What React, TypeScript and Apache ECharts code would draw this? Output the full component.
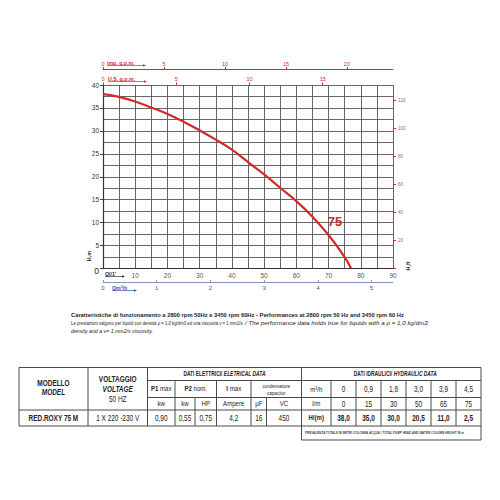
import React, { useEffect, useRef } from "react";
import * as echarts from "echarts";

// ---- data ----
const flowLpm = [0, 5, 10, 15, 20, 25, 30, 35, 40, 45, 50, 55, 60, 65, 70, 75, 77];
const headM = [38.0, 37.4, 36.4, 35.1, 33.7, 32.0, 30.1, 28.1, 25.9, 23.2, 20.5, 17.6, 14.7, 11.3, 7.3, 2.5, 0];
const curveLabel = "75";
const curveLabelAt = [72, 10.2];

const modelName = "RED.ROXY 75 M";
const voltageValue = "1 X 220 -230 V";
const elecUnits = ["kw", "kw", "HP", "Ampere", "μF", "VC"];
const elecValues = ["0,90", "0,55", "0,75", "4,2", "16", "450"];
const hydRowLabels = ["m³/h", "l/m", "H/(m)"];
const hydM3h = ["0", "0,9", "1,8", "3,0", "3,9", "4,5"];
const hydLm = ["0", "15", "30", "50", "65", "75"];
const hydHead = ["38,0", "35,0", "30,0", "20,5", "11,0", "2,5"];

const noteTitle =
  "Caratteristiche di funzionamento a 2800 rpm 50Hz e 3450 rpm 60Hz - Performances at 2800 rpm 50 Hz and 3450 rpm 60 Hz";
const noteIt = "Le prestazioni valgono per liquidi con densità ρ = 1,0 kg/dm3 ed una viscosità ν = 1 mm2/s";
const noteEn1 = "/ The performance data holds true for liquids with a ρ = 1,0 kg/dm3";
const noteEn2 = "density and a ν= 1 mm2/s viscosity.";
const headNote = "PREVALENZA TOTALE IN METRI COLONNA ACQUA / TOTAL PUMP HEAD AND WATER COLUMN HEIGHT IN m";

// ---- unit conversions for secondary axes ----
const LPM_MAX = 90;
const L_PER_USGAL = 3.785;
const L_PER_IMPGAL = 4.546;
const FT_PER_M = 3.28084;

const RED = "#d42a2a";
const BLUE = "#2e57a8";
const GRID = "#555";
const INK = "#222";
const FF = "'Liberation Sans', Arial, sans-serif";
const fnt = (size: number, weight = "normal", style = "normal") => `${style} ${weight} ${size}px ${FF}`;

export default function App() {
  const ref = useRef<HTMLDivElement>(null);
  useEffect(() => {
    const canvas = document.createElement("canvas");
    const ctx = canvas.getContext("2d")!;
    const tw = (s: string, font: string) => {
      ctx.font = font;
      return ctx.measureText(s).width;
    };
    const T = (x: number, y: number, text: string, font: string, fill = INK, align = "left", sx = 1, rot = 0) => ({
      type: "text",
      x,
      y,
      scaleX: sx,
      rotation: rot,
      silent: true,
      style: { text, font, fill, textAlign: align, textVerticalAlign: "middle" },
    });
    const fitT = (x: number, y: number, text: string, font: string, width: number, fill = INK) =>
      T(x, y, text, font, fill, "left", width / tw(text, font));
    const SX = 0.76;
    const cell = (cx: number, cy: number, parts: [string, string][], fill = INK, sx = SX) => {
      const ws = parts.map(([t, f]) => tw(t, f) * sx);
      let x = cx - ws.reduce((a, b) => a + b, 0) / 2;
      return parts.map(([t, f], i) => {
        const el = T(x, cy, t, f, fill, "left", sx);
        x += ws[i];
        return el;
      });
    };
    const L = (x1: number, y1: number, x2: number, y2: number, stroke = "#555", w = 1) => ({
      type: "line",
      silent: true,
      shape: { x1, y1, x2, y2 },
      style: { stroke, lineWidth: w },
    });
    const nameTag = (x: number, y: number, text: string, color: string, end: number) => {
      const font = fnt(5.5, "bold");
      return [
        T(x, y, text, font, color, "left", 0.95),
        L(x, y + 3, end, y + 3, color, 0.7),
        {
          type: "polygon",
          silent: true,
          shape: { points: [[end, y + 1.8], [end + 3, y + 3], [end, y + 4.2]] },
          style: { fill: color },
        },
      ];
    };

    const g: any[] = [];
    g.push(...nameTag(107, 62.5, "imp. g.p.m.", RED, 143));
    g.push(...nameTag(108, 78.5, "U.S. g.p.m.", RED, 144));
    g.push(...nameTag(105, 273.5, "Ql/1'", "#333", 122));
    g.push(...nameTag(112, 287.5, "Qm³/h", BLUE, 134));
    g.push(T(89, 256, "H,m", fnt(5.5, "bold"), "#333", "center", 1, Math.PI / 2));
    g.push(T(408, 266, "H,ft", fnt(5.5, "bold"), "#333", "center", 1, Math.PI / 2));

    g.push(fitT(71, 314.5, noteTitle, fnt(6, "bold"), 334));
    g.push(fitT(71, 323, noteIt, fnt(5.5), 172));
    g.push(fitT(245, 323, noteEn1, fnt(5.5, "normal", "italic"), 183));
    g.push(fitT(71, 330.5, noteEn2, fnt(5.5, "normal", "italic"), 82));

    const top = 367.5, yH1 = 380.5, yH2 = 397.5, yH3 = 410, bot = 426, noteBot = 440;
    const xL = 19, xR = 481;
    const c1 = 88, c2 = 147.5, p1 = 175, p2 = 195, hp = 216.5, im = 251, uf = 266.5, vc = 301.5;
    const hx = [301.5, 331, 356, 381, 406, 431, 456, 481];
    const LC = "#4a4a4a";
    g.push({ type: "rect", silent: true, shape: { x: xL, y: top, width: xR - xL, height: bot - top }, style: { fill: "none", stroke: LC, lineWidth: 1 } });
    g.push(L(c1, top, c1, bot, LC), L(c2, top, c2, bot, LC), L(vc, top, vc, noteBot, LC));
    g.push(L(xR, bot, xR, noteBot, LC), L(vc, noteBot, xR, noteBot, LC, 1.2));
    g.push(L(c2, yH1, xR, yH1, LC), L(c2, yH2, xR, yH2, LC), L(xL, yH3, xR, yH3, LC));
    [p1, hp, im].forEach((x) => g.push(L(x, yH1, x, bot, LC)));
    [p2, uf].forEach((x) => g.push(L(x, yH2, x, bot, LC)));
    hx.slice(1, 7).forEach((x) => g.push(L(x, yH1, x, bot, LC)));

    const B = fnt(8.5, "bold");
    const BI = fnt(8.5, "bold", "italic");
    const R = fnt(8.5);
    g.push(...cell((xL + c1) / 2, 383.5, [["MODELLO", B]]));
    g.push(...cell((xL + c1) / 2, 392, [["MODEL", BI]]));
    g.push(...cell((c1 + c2) / 2, 379.5, [["VOLTAGGIO", B]]));
    g.push(...cell((c1 + c2) / 2, 389.5, [["VOLTAGE", BI]]));
    g.push(...cell((c1 + c2) / 2, 399.5, [["50 HZ", R]]));
    const HB = fnt(7, "bold");
    const HBI = fnt(7, "bold", "italic");
    g.push(...cell((c2 + vc) / 2, 374, [["DATI ELETTRICI/ ", HB], ["ELETRICAL DATA", HBI]], INK, 0.7));
    g.push(...cell((vc + xR) / 2 + 4, 374, [["DATI IDRAULICI/ ", HB], ["HYDRAULIC DATA", HBI]], INK, 0.7));
    const Rs = fnt(8);
    const Bs = fnt(8, "bold");
    g.push(...cell((c2 + p1) / 2, 389, [["P1", Bs], [" max", Rs]]));
    g.push(...cell((p1 + hp) / 2, 389, [["P2", Bs], [" nom.", Rs]]));
    g.push(...cell((hp + im) / 2, 389, [["I", Bs], [" max", Rs]]));
    g.push(...cell((im + vc) / 2, 386, [["condensatore", fnt(6)]]));
    g.push(...cell((im + vc) / 2, 392.5, [["capacitor", fnt(6)]]));
    const ecx = [(c2 + p1) / 2, (p1 + p2) / 2, (p2 + hp) / 2, (hp + im) / 2, (im + uf) / 2, (uf + vc) / 2];
    elecUnits.forEach((u, i) => g.push(...cell(ecx[i], 404, [[u, Rs]])));
    elecValues.forEach((v, i) => g.push(...cell(ecx[i], 418, [[v, R]])));
    g.push(...cell((xL + c1) / 2, 418, [[modelName, B]]));
    g.push(...cell((c1 + c2) / 2, 418, [[voltageValue, R]]));
    const hcx = hx.slice(0, 7).map((x, i) => (x + hx[i + 1]) / 2);
    const rowsY = [389.5, 404, 418];
    [hydM3h, hydLm, hydHead].forEach((row, r) => {
      const f = r === 2 ? B : R;
      g.push(...cell(hcx[0], rowsY[r], [[hydRowLabels[r], r === 2 ? Bs : Rs]]));
      row.forEach((v, i) => g.push(...cell(hcx[i + 1], rowsY[r], [[v, f]])));
    });
    g.push(fitT(305, 433, headNote, fnt(4, "bold"), 160, "#444"));

    const chart = echarts.init(ref.current!, null, { renderer: "svg" });
    const option: any = {
      animation: false,
      backgroundColor: "#fff",
      textStyle: { fontFamily: FF },
      grid: { left: 103, top: 85, width: 290, height: 183.5, containLabel: false },
      xAxis: [
        {
          type: "value",
          position: "bottom",
          min: 0,
          max: LPM_MAX,
          interval: 10,
          axisLine: { show: true, onZero: false, lineStyle: { color: "#333", width: 1.2 } },
          axisTick: { show: false },
          axisLabel: { fontSize: 6.5, color: "#555", margin: 3, formatter: (v: number) => (v === 0 ? "" : String(v)) },
          splitLine: { show: true, lineStyle: { color: GRID, width: 0.9 } },
          minorTick: { show: false, splitNumber: 2 },
          minorSplitLine: { show: true, lineStyle: { color: GRID, width: 0.9 } },
        },
        {
          type: "value",
          position: "top",
          offset: 16,
          min: 0,
          max: LPM_MAX / L_PER_USGAL,
          interval: 5,
          axisLine: { show: true, onZero: false, lineStyle: { color: RED, width: 1 } },
          axisTick: { show: true, length: 2, lineStyle: { color: RED } },
          axisLabel: { fontSize: 5.5, color: RED, margin: 2.5, showMaxLabel: false, formatter: (v: number) => (v % 5 === 0 ? String(v) : "") },
          splitLine: { show: false },
        },
        {
          type: "value",
          position: "top",
          offset: 0,
          min: 0,
          max: LPM_MAX / L_PER_IMPGAL,
          interval: 5,
          axisLine: { show: false, onZero: false },
          axisTick: { show: true, length: 2.5, lineStyle: { color: RED } },
          axisLabel: { fontSize: 5.5, color: RED, margin: 3, showMaxLabel: false, formatter: (v: number) => (v % 5 === 0 ? String(v) : "") },
          splitLine: { show: false },
        },
        {
          type: "value",
          position: "bottom",
          offset: 14,
          min: 0,
          max: LPM_MAX * 0.06,
          interval: 1,
          axisLine: { show: true, onZero: false, lineStyle: { color: "#8797b8", width: 1 } },
          axisTick: { show: true, inside: true, length: 2.5, lineStyle: { color: "#8797b8" } },
          axisLabel: { fontSize: 6, color: BLUE, margin: 2, showMaxLabel: false, formatter: (v: number) => (Number.isInteger(v) ? String(v) : "") },
          splitLine: { show: false },
        },
      ],
      yAxis: [
        {
          type: "value",
          position: "left",
          min: 0,
          max: 40,
          interval: 5,
          axisLine: { show: true, onZero: false, lineStyle: { color: "#333", width: 1.2 } },
          axisTick: { show: true, length: 3, lineStyle: { color: "#444" } },
          axisLabel: {
            fontSize: 6.5,
            color: "#333",
            margin: 4,
            formatter: (v: number) => (v === 0 ? "{z|0}" : String(v)),
            rich: { z: { fontSize: 8.5, color: "#222", padding: [5, 0, 0, 0] } },
          },
          splitLine: { show: true, lineStyle: { color: GRID, width: 0.9 } },
          minorTick: { show: false, splitNumber: 2 },
          minorSplitLine: { show: true, lineStyle: { color: GRID, width: 0.9 } },
        },
        {
          type: "value",
          position: "right",
          min: 0,
          max: 40 * FT_PER_M,
          interval: 20,
          axisLine: { show: false, onZero: false },
          axisTick: { show: true, length: 3, lineStyle: { color: RED } },
          axisLabel: {
            fontSize: 4.5,
            color: "#777",
            margin: 5,
            showMaxLabel: false,
            formatter: (v: number) => (v > 0 && v % 20 === 0 ? String(v) : ""),
          },
          splitLine: { show: false },
        },
      ],
      series: [
        {
          type: "line",
          xAxisIndex: 0,
          yAxisIndex: 0,
          data: flowLpm.map((x, i) => [x, headM[i]]),
          smooth: 0.4,
          symbol: "none",
          lineStyle: { color: RED, width: 2.2 },
          markPoint: {
            symbol: "circle",
            symbolSize: 1,
            itemStyle: { color: "rgba(0,0,0,0)" },
            label: { show: true, position: "inside", formatter: curveLabel, color: RED, fontWeight: "bold", fontSize: 13 },
            data: [{ coord: curveLabelAt }],
          },
        },
      ],
      graphic: { elements: g },
    };
    chart.setOption(option);
    return () => chart.dispose();
  }, []);
  return <div ref={ref} style={{ position: "fixed", left: 0, top: 0, width: 500, height: 500, background: "#fff" }} />;
}
